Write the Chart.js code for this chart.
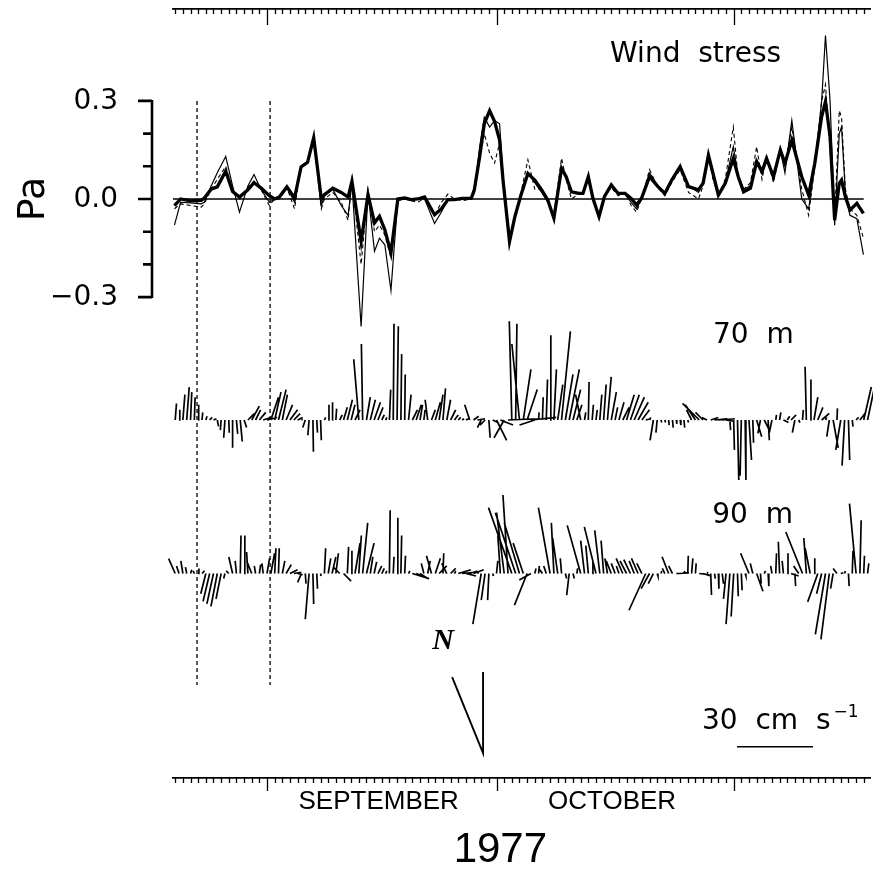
<!DOCTYPE html>
<html>
<head>
<meta charset="utf-8">
<title>Wind stress and currents, autumn 1977</title>
<script src="https://cdn.jsdelivr.net/npm/chart.js@4.4.1/dist/chart.umd.min.js"></script>
<style>
  html, body { margin: 0; padding: 0; background: #fff; }
  #wrap { width: 873px; height: 886px; }
</style>
</head>
<body>
<div id="wrap"><canvas id="grafica" width="873" height="886"></canvas></div>
<script>
// time axis: day 0 = 1 September 1977
var firstDay = -12.29, lastDay = 78.82;
var monthStarts = [0, 30, 61];
var monthNames = ['SEPTEMBER', 'OCTOBER'];
var monthLabelDays = [14.6, 45.1];
var yearLabel = '1977', yearLabelDay = 30.5;

// wind stress axis (Pa)
var paTicks = [0.3, 0.2, 0.1, 0, -0.1, -0.2, -0.3];
var paLabelValues = [0.3, 0, -0.3];
var paLabels = ['0.3', '0.0', '\u22120.3'];

// wind stress, three estimates
var stressDays = [
  -12.1, -11.3, -10.0, -8.6, -8.2, -7.3, -6.5, -5.4, -4.5, -3.6,
  -2.5, -1.7, -0.8, 0.3, 1.0, 1.6, 2.6, 3.6, 4.45, 5.3,
  6.1, 7.1, 7.5, 8.6, 9.7, 10.6, 11.1, 12.3, 13.2, 14.05,
  14.7, 15.4, 16.2, 17.1, 18.0, 18.85, 19.7, 20.6, 21.9, 22.8,
  23.65, 24.5, 25.5, 26.7, 27.1, 27.8, 28.4, 29.1, 29.75, 30.4,
  30.85, 31.7, 32.4, 33.2, 34.1, 35.0, 35.9, 36.7, 37.5, 38.5,
  39.1, 39.8, 40.7, 41.3, 42.0, 42.6, 43.4, 44.1, 45.0, 45.9,
  46.8, 47.6, 48.3, 48.95, 50.0, 51.1, 52.0, 52.9, 54.0, 55.1,
  56.4, 57.0, 57.7, 58.3, 59.0, 59.9, 60.95, 61.6, 62.3, 63.2,
  64.0, 64.7, 65.3, 66.2, 67.1, 67.7, 68.6, 69.9, 70.8, 71.6,
  72.5, 73.0, 73.6, 74.2, 74.8, 75.1, 75.6, 76.2, 77.1, 77.96
];
var stressThick = [
  -0.02, 0.0, -0.006, -0.004, 0.003, 0.03, 0.037, 0.085, 0.023, 0.006,
  0.028, 0.05, 0.034, 0.01, 0.0, 0.006, 0.037, 0.003, 0.098, 0.112,
  0.187, 0.0, 0.013, 0.033, 0.02, 0.006, 0.054, -0.13, 0.013, -0.073,
  -0.053, -0.094, -0.165, 0.0, 0.003, -0.002, 0.0, 0.006, -0.048, -0.03,
  -0.002, -0.002, 0.002, 0.002, 0.028, 0.13, 0.23, 0.27, 0.237, 0.18,
  0.058, -0.13, -0.054, 0.012, 0.078, 0.058, 0.028, -0.003, -0.059, 0.094,
  0.068, 0.022, 0.017, 0.017, 0.068, 0.002, -0.054, 0.007, 0.043, 0.017,
  0.017, 0.002, -0.018, 0.002, 0.068, 0.038, 0.017, 0.058, 0.099, 0.038,
  0.028, 0.048, 0.134, 0.078, 0.012, 0.048, 0.124, 0.068, 0.022, 0.033,
  0.114, 0.083, 0.124, 0.068, 0.15, 0.109, 0.18, 0.068, 0.012, 0.109,
  0.252, 0.298, 0.191, -0.065, 0.048, 0.058, 0.007, -0.034, -0.013, -0.044
];
var stressThin = [
  -0.08, -0.01, -0.012, -0.015, -0.01, 0.04, 0.08, 0.13, 0.04, -0.04,
  0.04, 0.075, 0.03, -0.01, 0.0, 0.005, 0.035, -0.01, 0.1, 0.115,
  0.185, -0.02, 0.01, 0.03, -0.02, -0.05, 0.05, -0.39, 0.02, -0.16,
  -0.12, -0.14, -0.28, 0.0, 0.0, -0.005, 0.0, 0.0, -0.075, -0.04,
  0.0, -0.002, 0.0, 0.0, 0.02, 0.16, 0.25, 0.22, 0.24, 0.23,
  0.07, -0.13, -0.05, 0.01, 0.08, 0.05, 0.02, -0.01, -0.06, 0.09,
  0.065, 0.02, 0.02, 0.015, 0.065, 0.0, -0.05, 0.005, 0.04, 0.02,
  0.015, -0.01, -0.03, 0.0, 0.08, 0.04, 0.02, 0.06, 0.1, 0.04,
  0.02, 0.05, 0.14, 0.07, 0.01, 0.05, 0.16, 0.07, 0.03, 0.04,
  0.12, 0.09, 0.13, 0.06, 0.15, 0.08, 0.24, 0.0, -0.03, 0.1,
  0.3, 0.5, 0.3, -0.08, 0.2, 0.22, 0.02, -0.05, -0.06, -0.17
];
var stressDashed = [
  -0.03, -0.015, -0.02, -0.025, -0.015, 0.03, 0.06, 0.1, 0.03, 0.0,
  0.035, 0.055, 0.03, -0.02, 0.0, 0.0, 0.035, -0.03, 0.1, 0.11,
  0.18, -0.03, 0.0, 0.02, -0.01, -0.065, 0.06, -0.2, 0.03, -0.1,
  -0.08, -0.11, -0.18, -0.005, 0.0, -0.005, -0.01, 0.002, -0.05, -0.01,
  0.015, 0.0, -0.005, 0.0, 0.02, 0.12, 0.2, 0.14, 0.11, 0.17,
  0.05, -0.12, -0.05, 0.02, 0.12, 0.03, 0.03, -0.01, -0.05, 0.125,
  0.06, 0.0, 0.015, 0.015, 0.06, 0.0, -0.05, 0.01, 0.035, 0.01,
  0.02, -0.02, -0.04, 0.0, 0.09, 0.035, 0.01, 0.05, 0.09, 0.02,
  0.0, 0.04, 0.13, 0.06, 0.01, 0.06, 0.22, 0.06, 0.03, 0.05,
  0.16, 0.06, 0.13, 0.05, 0.15, 0.1, 0.22, 0.03, -0.05, 0.1,
  0.3, 0.35, 0.15, -0.06, 0.27, 0.25, 0.03, -0.03, -0.05, -0.12
];

// dashed marker days
var markerDays = [-9.15, 0.4];

// current vectors (cm/s, east u and north v), one every half day from day -12
var stickStart = -12, stickStep = 0.5;
var u70 = [
  0.5, 0.3, 0.8, 1, 0.5, 0.3, 0.2, 0.3, 0.5, 1,
  1.2, 0.5, -0.3, -0.5, 0.2, 0, 0.5, 0.8, 1, 2.5,
  3, 2, 2.5, 3, 4, 3, 2.5, 3, 2, 2.5,
  3, 2.5, 2, 0.5, -1, -0.5, 0.2, 0.3, 0.3, 0.5,
  0.3, 0.2, 0.3, 1, 1.5, 2, 1.5, 2, -2, -0.5,
  1.5, 2, 2.5, 2, 1, 0.5, 0.5, 0.3, 0.5, 0.3,
  0.2, 1, 2, 2, 1, 0.5, -1, 1.5, 2, 1.5,
  1, 1.5, 2, 1.5, 1, 0.8, 1, -2, 2, 3,
  -1.5, -2, 0.5, 2, 4, 5, -4, 12, -1, 0.5,
  -3, 3, 4, 10, -6, 0.2, 0.3, 0.5, 0.3, 1,
  2, 3.5, 3, 4, 3, 2, -2, 0.5, 0.3, 0.5,
  0.5, 0.8, 1, 1.5, 2, 1, 2, 2.5, 3, 3.5,
  4, 4, 3, 2, 0.5, -1.3, -0.5, 0.3, 0.3, 0.2,
  0.3, 0.2, 0.3, 0.3, 0.3, -2, -4, -6.6, -3, -2,
  3, 5, 4, 5, 3, 0.3, 0.3, 0.5, -0.5, 0.3,
  1, 0.3, 2, -1, 2, 0.5, -1, 0.3, 0.5, 2,
  1, 2, -1, 0.5, 0.3, -0.5, 0.3, 1.5, 2, 3,
  0.5, -1, 2, 0.2, -2, -1, 0.5, 0.3, 1, 2,
  3, 4.6
];
var v70 = [
  6.5, 4, 10, 13, 11, 9, 6, 3, 1.5, 1,
  0.5, -2.5, -4, -7, -5, -11, -5.5, -8.5, -3, 2.5,
  5.5, 4, 3, 1, 1, 9, 11, 12, 10, 6,
  4, 2.5, 1, 0.2, -3, -6, -12.5, -5, -8, 1,
  6, 7, 4.5, 2, 5, 8, 6, 4, 24, 30,
  9, 8, 7, 5, 2, 1, 12, 38, 37, 26,
  18, 10, 4, 6, 6, 4, 8, 4, 7, 10,
  12.5, 8, 4, 2, 1, 0.5, 0.5, 6, 1.5, 0.5,
  -3, -2, -7, -1, -8, -2, -7, 0.5, 39, 38,
  30, 20, 12, 1, -2, 3, 9, 16, 33.5, 20,
  14, 35, 18, 20, 12, 6, 10, 3, 15, 6,
  4, 10, 14, 17, 11, 5, 7, 5, 10, 10,
  9, 7, 4, 0.5, 1, -8, -5, -1, -1, -2,
  -3, -1.5, -2, -3, -1, 4, 6, 6.6, 3, 1,
  1, 0.5, 0.3, 0.5, -0.5, -4, -11.8, -23.7, -22, -23.7,
  -15.8, -9, -6.6, -5.3, -4, -8, -5, 2, 3, -1,
  1.5, 2, -5, -1, 4, 21, 16, 9, 5, 2.6,
  1, -6.6, -11, 4.6, -11.8, -18, -15.8, -2.6, 1, 2.6,
  13, 21.7
];
var u90 = [
  -2.6, -1, -0.8, -0.5, 0.5, -0.5, 0.3, 1, -2, -2.6,
  -2.6, -2.5, -2, -0.5, -1, -1.5, -0.5, 0.3, 0.3, -0.5,
  -2, -0.5, 0.5, -0.5, 1, 1.5, 0.5, 0.3, 1, 2,
  3, 3, 2, -1.5, 0.3, -1.5, 0.3, 0.3, 0.2, 0.5,
  1, 1.5, 1, -2.5, 3, 0.5, 0.3, 2, 1, 2,
  3, 1, 1, 1.5, 1, 0.5, 0.3, 0.3, 0.3, 0.3,
  0.3, 0.5, 6.6, 4, 3, -1, 1, -2, 2, 3,
  0.3, -2, 2, 0.5, 5, 5, 4, 3, 4, 0.5,
  -3.3, -1.5, -0.5, 0.3, 0.5, -1, -3, -2, -9.2, -8,
  -6, -4, -5, -4.6, 0.5, 0.3, -1, -1, -4.6, -1,
  -2, -0.5, 0.5, -1, 0.5, 0.3, -5.3, -1.5, -1, 0.3,
  -4.6, -2, -1, -1, -2, -1.5, -1, -2.6, -2.6, -2.6,
  -2, -2.6, -2, -6.6, -3.3, -2, 0.3, 0.3, -1, -2.6,
  -1.5, 5, 3, 0.3, 0.2, 0.5, 0.3, 4, 3, 0.5,
  0.3, 0.3, 0.2, 0.5, -1, -1.5, -1, 0.3, 0.3, 0.3,
  -3.3, -1, 2.5, 0.3, 0.5, 0.3, -0.5, 0.3, -0.5, -0.5,
  0.3, 3, 0.3, -2, -6.6, -1, -2, 0.3, -4, -2,
  -4, -3.3, -1, -1.5, 1, 0.3, 0.3, 0.3, -2.6, 0.5,
  0.3, 0.5
];
var v90 = [
  5.9, 3, 5, 2.5, 1.5, 1, 2, 1, -8, -11,
  -12, -13, -10, -2, 1, 6.5, 5, 15, 15, 8.5,
  5, 3, 3.5, 4, 6, 8, 10, 10, 5, 3.5,
  1.5, 0.5, -0.5, -3.5, -4, -18, -12, -6, -1, 10,
  6, 6.5, 8, 2.5, -3, 10.5, 9, 12, 15, 20,
  12, 6.6, 4.6, 3, 2, 1, 25, 6.6, 22, 15,
  7, 1, -2, -1.5, -2, 4, 5, 7, 6, 3,
  8, 4, 2, 1, 1.5, 0.5, -1, 1, 1.5, 0.5,
  -20, -10.5, -10.5, -1, 5, 15, 24, 31, 26, 24,
  20, 12, -12.5, -2.6, 2, 3, 1.5, 3, 26, 20,
  14, 6, -2, -8.5, -2, 2, 19, 13, 11, 5,
  18.4, 17, 13, 6, 5, 4, 3, 6, 5, 5.5,
  5, 6, 4, -14.5, -6, -4, -1, 1, 2, 6.6,
  3, 0.2, 0.3, 1, 7, 6, 4, -0.5, -1, 0.5,
  -8.5, -2, -6, -4, -10, -20, -17, -9, -6.6, -1,
  8, 4, -7, -4, 1, -5, 3, 8, 12.5, 5,
  8, -1, -5, 3, 16.4, 14, 10, 6, -11.2, -8,
  -24, -26, -6, 2, 0.3, 1, -5, 9, 27.6, 21,
  7, 4
];

// speed scale bar and north reference
var barDay = 61.44, barLevel = -68.4, barSpeed = 30;
var northDay = 28.24, northLevel = -70.9;
var northU = [0, -12.2], northV = [32, 30];

// vertical ranges: one shared plot area, one scale per panel
var paMin = -1.7706, paMax = 0.581;
var y70Min = -141.32, y70Max = 162.24;
var y90Min = -80.72, y90Max = 222.83;

function serie(days, vals) {
  var pts = [];
  for (var i = 0; i < days.length; i++) {
    pts.push({ x: days[i], y: vals[i] });
  }
  return pts;
}

function sticks(us, vs, dayPerCm) {
  var pts = [];
  for (var i = 0; i < us.length; i++) {
    var t = stickStart + i * stickStep;
    pts.push({ x: t, y: 0 });
    pts.push({ x: t + us[i] * dayPerCm, y: vs[i] });
    pts.push({ x: t, y: null });
  }
  return pts;
}

function markers() {
  var pts = [];
  for (var i = 0; i < markerDays.length; i++) {
    pts.push({ x: markerDays[i], y: 0.3 });
    pts.push({ x: markerDays[i], y: -1.486 });
    pts.push({ x: markerDays[i], y: null });
  }
  return pts;
}

var decoracion = {
  id: 'decoracion',
  afterDraw: function (chart) {
    var ctx = chart.ctx, area = chart.chartArea;
    var sx = chart.scales.x, sPa = chart.scales.yPa, s70 = chart.scales.y70, s90 = chart.scales.y90;
    ctx.save();
    ctx.strokeStyle = '#000';
    ctx.fillStyle = '#000';

    // daily ticks on the top and bottom time axes, longer at month starts
    ctx.lineWidth = 1.3;
    ctx.beginPath();
    for (var d = Math.ceil(firstDay); d <= Math.floor(lastDay); d++) {
      var px = Math.round(sx.getPixelForValue(d)) + 0.5;
      var major = monthStarts.indexOf(d) >= 0;
      ctx.moveTo(px, area.top);
      ctx.lineTo(px, area.top + (major ? 16 : 5));
      ctx.moveTo(px, area.bottom);
      ctx.lineTo(px, area.bottom + (major ? 13 : 5));
    }
    ctx.stroke();

    // wind stress axis
    var axX = area.left - 21;
    ctx.lineWidth = 2.6;
    ctx.beginPath();
    ctx.moveTo(axX, sPa.getPixelForValue(paTicks[0]) - 1);
    ctx.lineTo(axX, sPa.getPixelForValue(paTicks[paTicks.length - 1]) + 1);
    for (var i = 0; i < paTicks.length; i++) {
      var py = sPa.getPixelForValue(paTicks[i]);
      var len = paLabelValues.indexOf(paTicks[i]) >= 0 ? 14 : 9;
      ctx.moveTo(axX, py);
      ctx.lineTo(axX - len, py);
    }
    ctx.stroke();

    ctx.font = '28px "DejaVu Sans"';
    ctx.textAlign = 'right';
    ctx.textBaseline = 'middle';
    for (var j = 0; j < paLabelValues.length; j++) {
      ctx.fillText(paLabels[j], axX - 34, sPa.getPixelForValue(paLabelValues[j]) + 1);
    }

    ctx.save();
    ctx.translate(34, sPa.getPixelForValue(0));
    ctx.rotate(-Math.PI / 2);
    ctx.textAlign = 'center';
    ctx.font = '38px "DejaVu Sans"';
    ctx.fillText('Pa', 0, 0);
    ctx.restore();

    // panel labels
    ctx.textAlign = 'left';
    ctx.textBaseline = 'alphabetic';
    ctx.font = '28px "DejaVu Sans"';
    ctx.fillText('Wind  stress', sx.getPixelForValue(44.84), sPa.getPixelForValue(0.419));
    ctx.fillText('70  m', sx.getPixelForValue(58.3), s70.getPixelForValue(30.4));
    ctx.fillText('90  m', sx.getPixelForValue(58.2), s90.getPixelForValue(19.9));

    // speed scale caption
    var bx = sx.getPixelForValue(barDay), by = s90.getPixelForValue(barLevel);
    var cap = '30  cm  s';
    ctx.fillText(cap, bx - 35, by - 18);
    var w = ctx.measureText(cap).width;
    ctx.font = '17px "DejaVu Sans"';
    ctx.fillText('\u22121', bx - 35 + w + 3, by - 30);

    // north label above the rotated reference line
    var nx = sx.getPixelForValue(northDay), ny = s90.getPixelForValue(northLevel);
    ctx.font = 'italic bold 30px "Liberation Serif"';
    ctx.textAlign = 'center';
    ctx.textBaseline = 'middle';
    ctx.fillText('N', nx - 40, ny - 112);

    // year under the month names
    ctx.font = '42px "Liberation Sans"';
    ctx.fillText(yearLabel, sx.getPixelForValue(yearLabelDay), area.bottom + 72);
    ctx.restore();
  }
};

var grafica = new Chart(document.getElementById('grafica').getContext('2d'), {
  type: 'line',
  data: {
    datasets: [
      { label: 'stress', data: serie(stressDays, stressThick), yAxisID: 'yPa', borderColor: '#000', borderWidth: 3.3 },
      { label: 'stress thin', data: serie(stressDays, stressThin), yAxisID: 'yPa', borderColor: '#000', borderWidth: 1.2 },
      { label: 'stress dashed', data: serie(stressDays, stressDashed), yAxisID: 'yPa', borderColor: '#000', borderWidth: 1.1, borderDash: [4, 3] },
      { label: 'zero', data: [{ x: firstDay, y: 0 }, { x: 78, y: 0 }], yAxisID: 'yPa', borderColor: '#000', borderWidth: 1.3 },
      { label: 'markers', data: markers(), yAxisID: 'yPa', borderColor: '#000', borderWidth: 1.3, borderDash: [4, 3] },
      { label: '70 m', data: [], yAxisID: 'y70', borderColor: '#000', borderWidth: 1.7, clip: false },
      { label: '90 m', data: [], yAxisID: 'y90', borderColor: '#000', borderWidth: 1.7, clip: false },
      { label: 'scale bar', data: [], yAxisID: 'y90', borderColor: '#000', borderWidth: 1.6, clip: false },
      { label: 'north', data: [], yAxisID: 'y90', borderColor: '#000', borderWidth: 1.9, clip: false }
    ]
  },
  options: {
    responsive: false,
    animation: false,
    events: [],
    layout: { padding: { left: 173, right: 3, top: 9, bottom: 0 } },
    elements: { point: { radius: 0 }, line: { tension: 0, borderCapStyle: 'butt' } },
    plugins: { legend: { display: false }, tooltip: { enabled: false } },
    scales: {
      x: {
        type: 'linear', position: 'bottom', min: firstDay, max: lastDay,
        grid: { display: false, drawTicks: false },
        border: { display: true, color: '#000', width: 1.8 },
        afterBuildTicks: function (axis) {
          axis.ticks = monthLabelDays.map(function (v) { return { value: v }; });
        },
        afterFit: function (axis) { axis.height = 108; },
        ticks: {
          autoSkip: false, maxRotation: 0, padding: 8, color: '#000',
          font: { family: 'Liberation Sans', size: 26 },
          callback: function (value, index) { return monthNames[index]; }
        }
      },
      xTop: {
        type: 'linear', position: 'top', min: firstDay, max: lastDay,
        grid: { display: false, drawTicks: false },
        ticks: { display: false },
        afterFit: function (axis) { axis.height = 0; },
        border: { display: true, color: '#000', width: 1.8 }
      },
      yPa: { type: 'linear', display: false, min: paMin, max: paMax },
      y70: { type: 'linear', display: false, min: y70Min, max: y70Max },
      y90: { type: 'linear', display: false, min: y90Min, max: y90Max }
    }
  },
  plugins: [decoracion]
});

// sticks share one speed scale in both directions
var sx = grafica.scales.x, s70 = grafica.scales.y70;
var pxDay = sx.getPixelForValue(1) - sx.getPixelForValue(0);
var pxCm = s70.getPixelForValue(0) - s70.getPixelForValue(1);
var dayPerCm = pxCm / pxDay;

grafica.data.datasets[5].data = sticks(u70, v70, dayPerCm);
grafica.data.datasets[6].data = sticks(u90, v90, dayPerCm);
grafica.data.datasets[7].data = [
  { x: barDay, y: barLevel },
  { x: barDay + barSpeed * dayPerCm, y: barLevel }
];
grafica.data.datasets[8].data = [
  { x: northDay, y: northLevel + northV[0] },
  { x: northDay, y: northLevel },
  { x: northDay + northU[1] * dayPerCm, y: northLevel + northV[1] }
];
grafica.update('none');
</script>
</body>
</html>
